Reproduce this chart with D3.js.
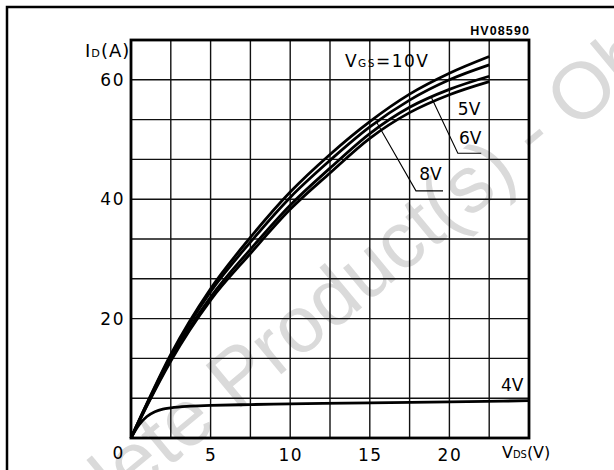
<!DOCTYPE html>
<html>
<head>
<meta charset="utf-8">
<script src="https://cdn.jsdelivr.net/npm/d3@7"></script>
<style>
  body { margin: 0; background: #fff; }
  text { font-family: "DejaVu Sans", sans-serif; fill: #000; }
</style>
</head>
<body>
<div id="chart"></div>
<script>
// output characteristics, I_D vs V_DS for several V_GS
const vds = [0, 1, 2.5, 5, 7.5, 10, 12.5, 15, 17.5, 20, 22.5];
const id10 = [0, 5.8, 14.0, 25.0, 33.6, 41.2, 47.5, 53.0, 57.6, 61.1, 63.9];
const id8  = [0, 5.7, 13.7, 24.5, 32.8, 40.3, 46.5, 52.1, 56.6, 60.0, 62.5];
const id6  = [0, 5.5, 13.2, 23.6, 31.6, 39.0, 45.2, 51.0, 55.4, 58.4, 60.6];
const id5  = [0, 5.4, 12.9, 23.1, 30.9, 38.3, 44.4, 50.2, 54.5, 57.5, 59.7];
const vds4 = [0, 0.5, 1, 1.5, 2, 2.5, 3.5, 5, 7.5, 10, 15, 20, 25];
const id4  = [0, 2.2, 3.6, 4.4, 4.85, 5.05, 5.3, 5.45, 5.6, 5.7, 5.9, 6.05, 6.25];
const xTicks = [5, 10, 15, 20];
const yTicks = [20, 40, 60];

const W = 614, H = 470;
const svg = d3.select('#chart').append('svg').attr('width', W).attr('height', H);

const x = d3.scaleLinear().domain([0, 25]).range([131, 529]);
const y = d3.scaleLinear().domain([0, 200/3]).range([438, 40]);

// watermark
svg.append('text')
  .attr('transform', 'translate(-28,630) rotate(-39.6)')
  .style('font-family', '"Liberation Sans", Arial, sans-serif')
  .style('font-size', '80px')
  .style('fill', '#dadada')
  .text('Obsolete Product(s) - Obsolete Product(s)');

// outer frame
svg.append('rect')
  .attr('x', 7).attr('y', 7).attr('width', 640).attr('height', 500)
  .attr('fill', 'none').attr('stroke', '#000').attr('stroke-width', 2.5);

// grid
const g = svg.append('g');
g.selectAll('.vg').data(d3.range(1, 10).map(i => i * 2.5)).join('line')
  .attr('x1', d => x(d)).attr('x2', d => x(d))
  .attr('y1', y(0)).attr('y2', y(200/3))
  .attr('stroke', '#111').attr('stroke-width', 1.4);
g.selectAll('.hg').data(d3.range(1, 10).map(i => i * 20/3)).join('line')
  .attr('y1', d => y(d)).attr('y2', d => y(d))
  .attr('x1', x(0)).attr('x2', x(25))
  .attr('stroke', '#111').attr('stroke-width', 1.4);

// curves
const line = d3.line().x(d => x(d[0])).y(d => y(d[1])).curve(d3.curveMonotoneX);
const series = [id10, id8, id6, id5].map(s => vds.map((v, i) => [v, s[i]]));
series.push(vds4.map((v, i) => [v, id4[i]]));
g.selectAll('path.c').data(series).join('path')
  .attr('class', 'c')
  .attr('d', line)
  .attr('fill', 'none').attr('stroke', '#000').attr('stroke-width', 2.8);

// plot border
g.append('rect')
  .attr('x', x(0)).attr('y', y(200/3))
  .attr('width', x(25) - x(0)).attr('height', y(0) - y(200/3))
  .attr('fill', 'none').attr('stroke', '#000').attr('stroke-width', 2.8);

// axes
const ax = svg.append('g').attr('transform', `translate(0,${y(0)})`)
  .call(d3.axisBottom(x).tickValues(xTicks).tickSize(0).tickPadding(11));
const ay = svg.append('g').attr('transform', `translate(${x(0)},0)`)
  .call(d3.axisLeft(y).tickValues(yTicks).tickSize(0).tickPadding(6));
[ax, ay].forEach(a => {
  a.select('.domain').remove();
  a.selectAll('text').attr('font-family', null).style('font-size', '17px').style('letter-spacing', '1.5px');
});

svg.append('text').attr('x', x(0) - 13).attr('y', y(0) + 21)
  .attr('text-anchor', 'middle').style('font-size', '17px').text('0');

// interpolated value on a curve
function at(s, v) {
  const xs = s.map(d => d[0]), ys = s.map(d => d[1]);
  return d3.scaleLinear().domain(xs).range(ys)(v);
}

function label(txt, sub, tail, px, py, size) {
  const t = svg.append('text').attr('x', px).attr('y', py).style('font-size', size + 'px');
  t.append('tspan').text(txt);
  if (sub) t.append('tspan').style('font-size', (size * 0.62) + 'px').text(sub);
  if (tail) t.append('tspan').text(tail);
  return t;
}

label('I', 'D', '(A)', 85, 57, 18).style('letter-spacing', '1px');
label('V', 'DS', '(V)', 502, 458, 16);
label('V', 'GS', '=10V', x(13.44), y(63.2) + 6, 17).style('letter-spacing', '1.5px');
label('5V', null, null, x(20.53), y(55.1) + 6, 17);
label('6V', null, null, x(20.6), y(50.2) + 6, 17);
label('8V', null, null, x(18.1), y(44.2) + 6, 17);
label('4V', null, null, x(23.24), y(8.9) + 6, 17);

// leaders
const leaders = [
  { s: series[2], v: 18.87, end: [20.53, 47.7], u: 22.0 },
  { s: series[1], v: 15.43, end: [17.9, 41.4], u: 19.6 }
];
leaders.forEach(l => {
  svg.append('polyline')
    .attr('points', [[x(l.v), y(at(l.s, l.v))], [x(l.end[0]), y(l.end[1])], [x(l.u), y(l.end[1])]].map(p => p.join(',')).join(' '))
    .attr('fill', 'none').attr('stroke', '#000').attr('stroke-width', 1.1);
});

svg.append('text').attr('x', 530).attr('y', 35).attr('text-anchor', 'end')
  .style('font-family', '"Liberation Sans", Arial, sans-serif')
  .style('font-size', '12.5px').style('font-weight', 'bold').style('letter-spacing', '1.1px')
  .text('HV08590');
</script>
</body>
</html>
